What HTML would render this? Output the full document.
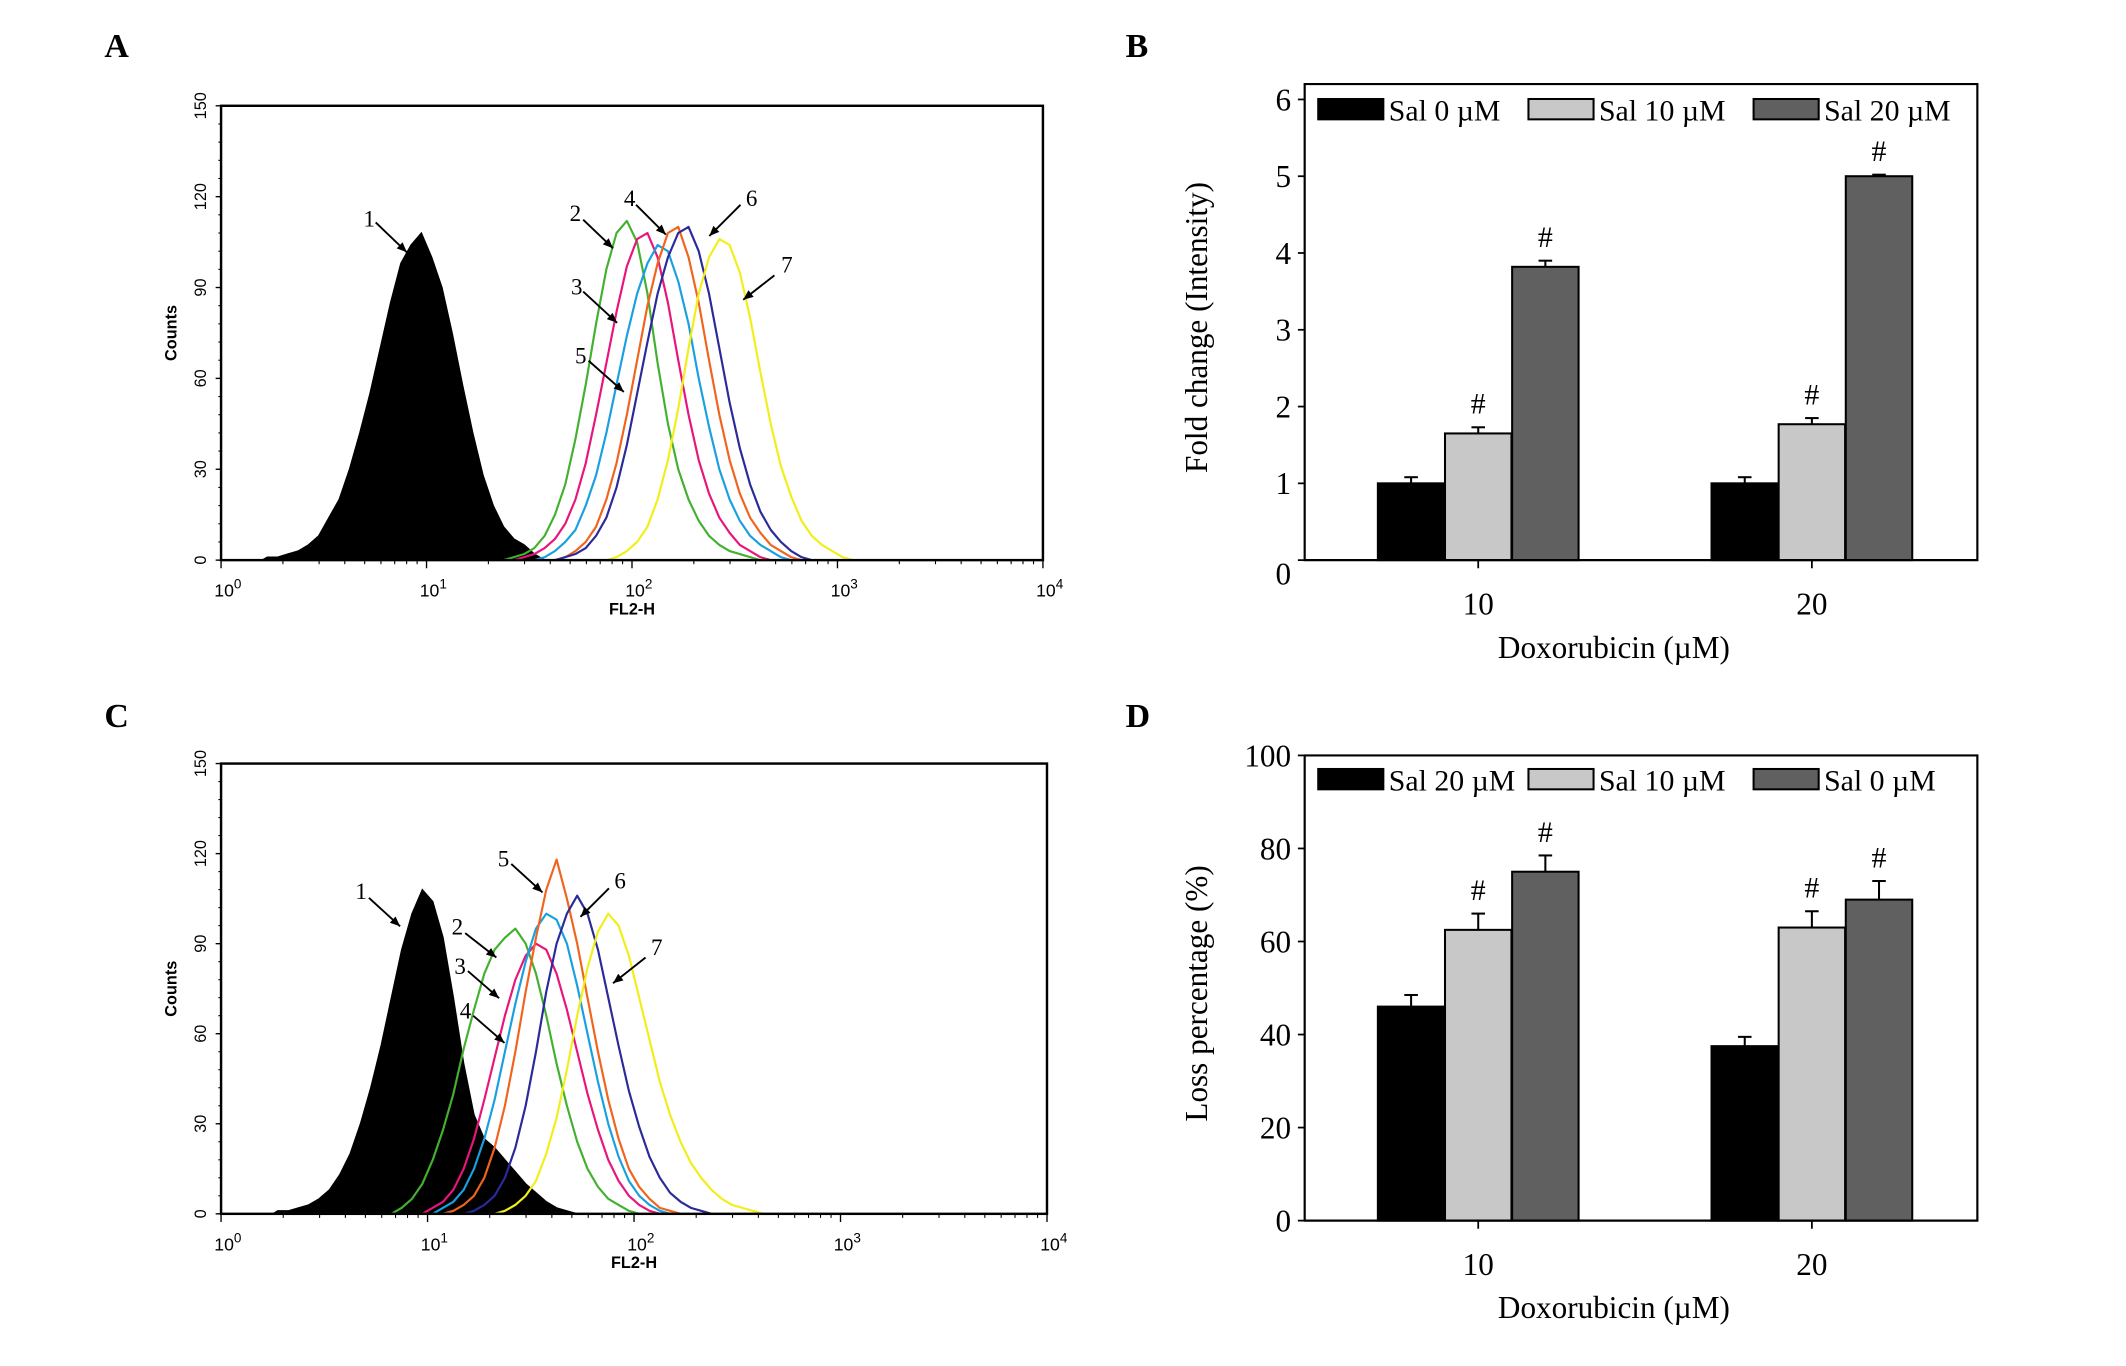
<!DOCTYPE html>
<html><head><meta charset="utf-8"><style>
html,body{margin:0;padding:0;background:#fff;}
svg{display:block;}
.serif{font-family:"Liberation Serif",serif;}
.sans{font-family:"Liberation Sans",sans-serif;}
</style></head><body>
<svg id="fig" width="2126" height="1366" viewBox="0 0 1567.6 1007.2" preserveAspectRatio="none" xmlns="http://www.w3.org/2000/svg">
<text x="77" y="42" class="serif" font-weight="bold" font-size="25">A</text>
<text x="830" y="42" class="serif" font-weight="bold" font-size="25">B</text>
<text x="77" y="536" class="serif" font-weight="bold" font-size="25">C</text>
<text x="830" y="536" class="serif" font-weight="bold" font-size="25">D</text>
</svg>
<script>
// ---------- Histogram data (log10 start, step 0.05, counts) ----------
const histStep = 0.05;
const aStarts = [0.2, 1.35, 1.4, 1.5, 1.6, 1.6, 1.85];
const aBlack = [1,1,2,3,5,8,14,20,30,42,55,70,85,98,104,108,100,90,75,58,42,28,18,11,7,5,2,0];
const aGreen = [0,1,2,4,8,15,25,40,58,78,96,108,112,105,88,65,45,30,20,13,8,5,3,2,1,0];
const aMagenta = [0,1,2,4,7,12,20,32,48,65,82,97,106,108,100,85,66,48,33,22,14,9,5,3,1,0];
const aCyan = [0,1,3,6,10,18,28,42,58,74,88,98,104,102,92,78,60,44,30,20,13,8,5,3,1,0];
const aOrange = [0,1,3,6,11,20,32,48,66,84,98,108,110,100,85,66,48,33,22,14,9,5,3,1,0];
const aNavy = [0,1,2,4,8,14,24,38,55,72,88,100,108,110,102,88,70,52,37,25,16,10,6,3,1,0];
const aYellow = [0,1,3,6,11,20,33,50,70,88,100,106,104,95,80,62,45,31,21,13,8,5,3,1,0];
const cStarts = [0.25, 0.8, 0.95, 1.0, 1.05, 1.15, 1.3];
const cBlack = [1,1,2,3,5,8,13,20,30,42,56,72,88,100,108,104,92,72,50,33,25,22,18,14,10,7,4,2,1,0];
const cGreen = [0,2,5,10,18,28,40,55,68,80,88,92,95,90,80,66,50,36,24,15,9,5,3,1,0];
const cMagenta = [0,2,4,8,15,25,38,52,66,78,86,90,88,80,68,54,40,28,18,11,6,3,1,0];
const cCyan = [0,2,4,8,15,25,38,54,70,84,95,100,98,90,76,60,44,30,19,11,6,3,1,0];
const cOrange = [0,1,3,6,12,22,36,54,74,92,108,118,105,90,72,54,38,25,15,9,5,2,1,0];
const cNavy = [0,1,3,6,12,22,36,54,74,90,100,106,100,88,72,56,41,29,19,12,7,4,2,1,0];
const cYellow = [0,1,3,6,11,20,32,48,66,82,94,100,96,86,72,58,44,33,24,17,12,8,5,3,2,1,0];
const histColors = ['#000','#44b030','#e8157a','#1aa0e0','#f0641e','#2a2a9a','#f2ee1a'];
const histYTicks = [0,30,60,90,120,150];
const histXTicks = ['0','1','2','3','4'];

// ---------- Bar data ----------
const barCategories = ['10','20'];
const bSal0 = [1.0, 1.0];
const bSal10 = [1.65, 1.77];
const bSal20 = [3.82, 5.0];
const bErr0 = [0.08, 0.08];
const bErr10 = [0.08, 0.08];
const bErr20 = [0.08, 0.02];
const bSig = [[false,true,true],[false,true,true]];
const bTicks = [0,1,2,3,4,5,6];
const bLegend = ['Sal 0 µM','Sal 10 µM','Sal 20 µM'];
const dSal20 = [46, 37.5];
const dSal10 = [62.5, 63];
const dSal0 = [75, 69];
const dErr20 = [2.5, 2];
const dErr10 = [3.5, 3.5];
const dErr0 = [3.5, 4];
const dSig = [[false,true,true],[false,true,true]];
const dTicks = [0,20,40,60,80,100];
const dLegend = ['Sal 20 µM','Sal 10 µM','Sal 0 µM'];

const NS='http://www.w3.org/2000/svg';
const svg=document.getElementById('fig');
function el(tag,attrs,parent,text){const e=document.createElementNS(NS,tag);for(const k in attrs)e.setAttribute(k,attrs[k]);if(text!==undefined)e.textContent=text;(parent||svg).appendChild(e);return e;}

function histPanel(id,L,R,T,B,starts,series,labels,arrows){
  const g=el('g',{});
  
  
  const xs=v=>L+(R-L)*v/4;
  const ys=v=>B-(B-T)*v/150;
  series.forEach((arr,si)=>{
    let d='';
    arr.forEach((c,i)=>{
      const x=xs(starts[si]+(i+0.5)*histStep);
      d+=(i===0?'M':'L')+x.toFixed(1)+','+ys(c).toFixed(1);
    });
    let p;
    if(si===0){
      d='M'+xs(starts[0]).toFixed(1)+','+B+d.replace(/^M/,'L')+'L'+xs(starts[0]+arr.length*histStep).toFixed(1)+','+B+'Z';
      p=el('path',{d:d,fill:'#000',stroke:'#000','stroke-width':1},g);
    } else p=el('path',{d:d,fill:'none',stroke:histColors[si],'stroke-width':1.6,'stroke-linejoin':'round'},g);
    
    
  });
  const bl=el('line',{x1:L,x2:R,y1:B,y2:B,stroke:'#e8e000','stroke-width':1.5},g);
  
  
  const fr=el('rect',{x:L,y:T,width:R-L,height:B-T,fill:'none',stroke:'#000','stroke-width':1.8},g);
  
  
  histYTicks.forEach(v=>{
    const y=ys(v);
    el('line',{x1:L-4,x2:L,y1:y,y2:y,stroke:'#000','stroke-width':1},g);
    const t=el('text',{x:0,y:0,transform:`translate(${L-11},${y}) rotate(-90)`,'text-anchor':'middle','font-size':12,class:'sans'},g,String(v));
    
    
  });
  for(let v=0;v<150;v+=6){el('line',{x1:L-2,x2:L,y1:ys(v),y2:ys(v),stroke:'#000','stroke-width':0.8},g);}
  histXTicks.forEach((s,i)=>{
    const x=xs(i);
    el('line',{x1:x,x2:x,y1:B,y2:B+6,stroke:'#000','stroke-width':1},g);
    const t=el('text',{x:x-5,y:B+27,'font-size':13,class:'sans'},g,'10');
    
    
    el('tspan',{dy:-6,'font-size':10},t,s);
    if(i<4)for(let k=2;k<10;k++){const xm=xs(i+Math.log10(k));el('line',{x1:xm,x2:xm,y1:B,y2:B+3,stroke:'#000','stroke-width':0.8},g);}
  });
  const xt=el('text',{x:xs(2),y:B+40,'text-anchor':'middle','font-size':12,class:'sans','font-weight':'bold'},g,'FL2-H');
  
  
  const yt=el('text',{x:0,y:0,transform:`translate(${L-33},${(T+B)/2}) rotate(-90)`,'text-anchor':'middle','font-size':12,class:'sans','font-weight':'bold'},g,'Counts');
  
  
  arrows.forEach(a=>{
    const t=el('text',{x:a[0],y:a[1],'font-size':17,class:'serif'},g,a[2]);
    
    
    const ln=el('line',{x1:a[3],y1:a[4],x2:a[5],y2:a[6],stroke:'#000','stroke-width':1.4},g);
    
    
    const ang=Math.atan2(a[6]-a[4],a[5]-a[3]),h=8;
    const p1=[a[5]-h*Math.cos(ang-0.4),a[6]-h*Math.sin(ang-0.4)],p2=[a[5]-h*Math.cos(ang+0.4),a[6]-h*Math.sin(ang+0.4)];
    el('polygon',{points:`${a[5]},${a[6]} ${p1} ${p2}`,fill:'#000'},g);
  });
}
histPanel('panel-a',163,769,78,413,aStarts,[aBlack,aGreen,aMagenta,aCyan,aOrange,aNavy,aYellow],null,[
 [268,167,'1',277,164,300,186],[420,163,'2',430,162,452,183],[421,217,'3',430,215,455,238],[424,268,'5',434,266,460,289],
 [460,152,'4',469,151,491,173],[550,152,'6',546,151,523,174],[576,201,'7',571,203,548,221]]);
histPanel('panel-c',163,772,563,895,cStarts,[cBlack,cGreen,cMagenta,cCyan,cOrange,cNavy,cYellow],null,[
 [262,663,'1',272,662,295,683],[333,689,'2',343,688,366,706],[335,718,'3',345,716,368,736],[339,751,'4',349,749,372,769],
 [367,639,'5',377,637,400,658],[453,655,'6',449,655,428,676],[480,704,'7',476,706,452,725]]);

function barPanel(id,L,R,T,B,maxV,ticks,series,errs,sig,legend,ytitle,legY){
  const g=el('g',{});
  
  
  const ys=v=>B-(B-T)*v/maxV;
  const fills=['#000','#c8c8c8','#606060'];
  const centers=[L+(R-L)*0.258,L+(R-L)*0.754];
  const bw=49;
  barCategories.forEach((c,ci)=>{
    series.forEach((s,si)=>{
      const x=centers[ci]+(si-1.5)*bw+ (si-1)*0.5;
      const y=ys(s[ci]);
      const r=el('rect',{x:x,y:y,width:bw,height:B-y,fill:fills[si],stroke:'#000','stroke-width':1.5},g);
      
      
      const ye=ys(s[ci]+errs[si][ci]),xc=x+bw/2;
      el('line',{x1:xc,x2:xc,y1:y,y2:ye,stroke:'#000','stroke-width':1.5},g);
      el('line',{x1:xc-5,x2:xc+5,y1:ye,y2:ye,stroke:'#000','stroke-width':1.5},g);
      if(sig[ci][si]){const t=el('text',{x:xc,y:ye-10,'text-anchor':'middle','font-size':22,class:'serif'},g,'#');
        
        }
    });
    const xc=centers[ci];
    el('line',{x1:xc,x2:xc,y1:B,y2:B+6,stroke:'#000','stroke-width':1.3},g);
    const t=el('text',{x:xc,y:B+40,'text-anchor':'middle','font-size':23,class:'serif'},g,c);
    
    
  });
  const fr=el('path',{d:`M${L},${T}H${R}V${B}H${L}Z`,fill:'none',stroke:'#000','stroke-width':1.6},g);
  
  
  ticks.forEach(v=>{const y=ys(v);
    el('line',{x1:L-5,x2:L,y1:y,y2:y,stroke:'#000','stroke-width':1.3},g);
    const t=el('text',{x:L-10,y:(v===0&&id==='panel-b')?y+18:y+8,'text-anchor':'end','font-size':23,class:'serif'},g,String(v));
    
    
  });
  const xt=el('text',{x:(L+R)/2-20,y:B+72,'text-anchor':'middle','font-size':23,class:'serif'},g,'Doxorubicin  (µM)');
  
  
  const yt=el('text',{x:0,y:0,transform:`translate(${L-72},${(T+B)/2+4}) rotate(-90)`,'text-anchor':'middle','font-size':23,class:'serif'},g,ytitle);
  
  
  const lx=[972,1127,1293];
  legend.forEach((s,i)=>{
    const r=el('rect',{x:lx[i],y:legY-8,width:48,height:15,fill:fills[i],stroke:'#000','stroke-width':1.5},g);
    
    
    const t=el('text',{x:lx[i]+52,y:legY+8,'font-size':22,class:'serif'},g,s);
    
    
  });
}
barPanel('panel-b',962,1458,62,413,6.2,bTicks,[bSal0,bSal10,bSal20],[bErr0,bErr10,bErr20],bSig,bLegend,'Fold change  (Intensity)',81);
barPanel('panel-d',962,1458,557,900,100,dTicks,[dSal20,dSal10,dSal0],[dErr20,dErr10,dErr0],dSig,dLegend,'Loss percentage  (%)',575);
</script>
</body></html>
